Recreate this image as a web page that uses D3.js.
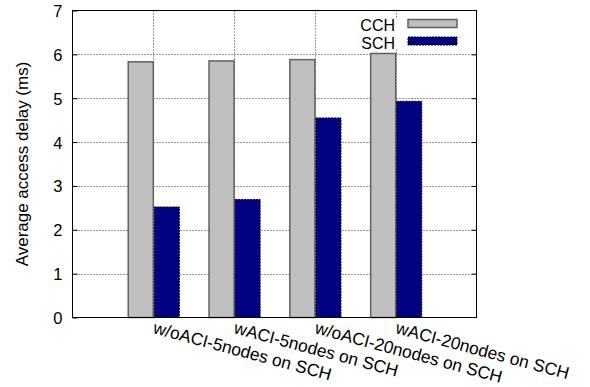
<!DOCTYPE html>
<head>
<meta charset="utf-8">
<style>
  body { margin:0; background:#fff; }
  svg { display:block; }
  text { font-family: "Liberation Sans", Arial, Helvetica, sans-serif; fill:#000; }
</style>
<script src="https://d3js.org/d3.v7.min.js"></script>
</head>
<body>
<script>

var width = 590;
var height = 387;

// data
var categories = ["w/oACI-5nodes on SCH", "wACI-5nodes on SCH", "w/oACI-20nodes on SCH", "wACI-20nodes on SCH"];
var cchValues = [5.83, 5.85, 5.88, 6.02];
var schValues = [2.52, 2.69, 4.55, 4.93];
var seriesNames = ["CCH", "SCH"];
var yTicks = [0, 1, 2, 3, 4, 5, 6, 7];

var margin = {left: 72.5, right: 113.5, top: 10.5, bottom: 69.5};

var svg = d3.select("body").append("svg")
    .attr("width", width)
    .attr("height", height);

// gnuplot style: categories sit at 0..3, xrange [-1:4]
var x = d3.scaleLinear()
    .domain([-1, 4])
    .range([margin.left, width - margin.right]);

var y = d3.scaleLinear()
    .domain([0, 7])
    .range([height - margin.bottom, margin.top]);

var barW = x(0.31) - x(0);

// grid
var grid = svg.append("g").attr("class", "grid");
grid.selectAll("line.h")
    .data(yTicks.filter(function(d) { return d > 0 && d < 7; }))
    .enter().append("line")
    .attr("x1", x(-1)).attr("x2", x(4))
    .attr("y1", function(d) { return Math.round(y(d)) + 0.5; })
    .attr("y2", function(d) { return Math.round(y(d)) + 0.5; })
    .attr("stroke", "#333").attr("stroke-dasharray", "1,2");
grid.selectAll("line.v")
    .data(categories)
    .enter().append("line")
    .attr("x1", function(d, i) { return Math.round(x(i)) + 0.5; })
    .attr("x2", function(d, i) { return Math.round(x(i)) + 0.5; })
    .attr("y1", y(7)).attr("y2", y(0))
    .attr("stroke", "#333").attr("stroke-dasharray", "1,2");

// bars
svg.append("g").selectAll("rect")
    .data(cchValues)
    .enter().append("rect")
    .attr("x", function(d, i) { return x(i) - barW; })
    .attr("y", function(d) { return y(d); })
    .attr("width", barW)
    .attr("height", function(d) { return y(0) - y(d); })
    .attr("fill", "#c0c0c0")
    .attr("stroke", "#606060")
    .attr("stroke-width", 1.5);

svg.append("g").selectAll("rect")
    .data(schValues)
    .enter().append("rect")
    .attr("x", function(d, i) { return x(i) + 1; })
    .attr("y", function(d) { return y(d); })
    .attr("width", barW)
    .attr("height", function(d) { return y(0) - y(d); })
    .attr("fill", "#000080")
    .attr("stroke", "#000")
    .attr("stroke-dasharray", "2,1");

// frame + ticks
svg.append("rect")
    .attr("x", x(-1)).attr("y", y(7))
    .attr("width", x(4) - x(-1)).attr("height", y(0) - y(7))
    .attr("fill", "none").attr("stroke", "#000");

var yAxisL = d3.axisLeft(y).tickValues(yTicks).tickFormat(d3.format("d"))
    .tickSizeInner(-5).tickSizeOuter(0).tickPadding(10);
var gy = svg.append("g").attr("transform", "translate(" + x(-1) + ",0)").call(yAxisL);
gy.select(".domain").remove();
gy.selectAll("text").style("font-size", "16.5px").attr("dy", "0.36em");

var yAxisR = d3.axisRight(y).tickValues(yTicks.slice(1, 7)).tickSizeInner(-5).tickSizeOuter(0).tickFormat("");
var gr = svg.append("g").attr("transform", "translate(" + x(4) + ",0)").call(yAxisR);
gr.select(".domain").remove();

// x labels, rotated like gnuplot "rotate by -15"
svg.append("g").selectAll("text")
    .data(categories)
    .enter().append("text")
    .attr("transform", function(d, i) { return "translate(" + (x(i) - 1) + "," + 333 + ") rotate(15)"; })
    .style("font-size", "17.3px")
    .text(function(d) { return d; });

// y label
svg.append("text")
    .attr("transform", "translate(28," + ((y(0) + y(7)) / 2) + ") rotate(-90)")
    .attr("text-anchor", "middle")
    .style("font-size", "17px")
    .text("Average access delay (ms)");

// legend
var legend = svg.append("g");
legend.append("rect")
    .attr("x", 356).attr("y", 18).attr("width", 116).attr("height", 31)
    .attr("fill", "#fff");
var legStyle = [
    {fill: "#c0c0c0", stroke: "#606060", dash: null, sw: 1.5},
    {fill: "#000080", stroke: "#000", dash: "2,1", sw: 1}
];
seriesNames.forEach(function(name, i) {
    var ly = 23.5 + i * 17.5;
    legend.append("text")
        .attr("x", 395).attr("y", ly + 7.5)
        .attr("text-anchor", "end")
        .style("font-size", "16px")
        .text(name);
    legend.append("rect")
        .attr("x", 408).attr("y", ly - 4)
        .attr("width", 49).attr("height", 8)
        .attr("fill", legStyle[i].fill)
        .attr("stroke", legStyle[i].stroke)
        .attr("stroke-width", legStyle[i].sw)
        .attr("stroke-dasharray", legStyle[i].dash);
});

</script>
</body>
